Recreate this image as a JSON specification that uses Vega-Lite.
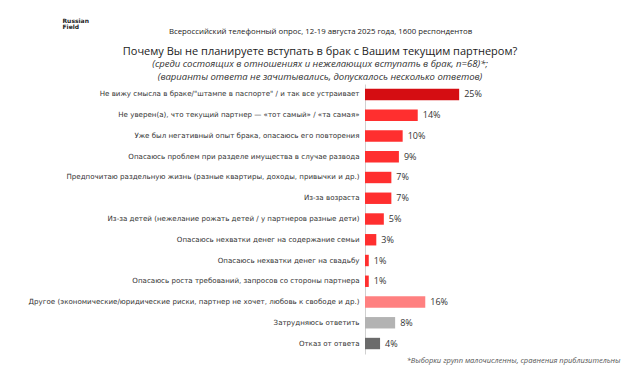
{
  "$schema": "https://vega.github.io/schema/vega-lite/v6.json",
  "width": 226,
  "height": 270,
  "autosize": {"type": "none"},
  "padding": {"left": 365, "top": 84, "right": 51, "bottom": 33},
  "background": "white",
  "config": {"view": {"stroke": null}, "font": "DejaVu Sans"},
  "title": {
    "text": "Почему Вы не планируете вступать в брак с Вашим текущим партнером?",
    "subtitle": ["(среди состоящих в отношениях и нежелающих вступать в брак, n=68)*;", "(варианты ответа не зачитывались, допускалось несколько ответов)"],
    "anchor": "middle",
    "frame": "group",
    "dx": -158,
    "offset": -64,
    "font": "Open Sans",
    "fontSize": 11,
    "fontWeight": "normal",
    "color": "#222222",
    "subtitleFont": "Open Sans",
    "subtitleFontSize": 9.5,
    "subtitleFontStyle": "italic",
    "subtitleColor": "#333333",
    "subtitleLineHeight": 12.5,
    "subtitlePadding": 2
  },
  "data": {
    "values": [
      {"reason": "Не вижу смысла в браке/\"штампе в паспорте\" / и так все устраивает", "value": 0.25, "type": "top"},
      {"reason": "Не уверен(а), что текущий партнер — «тот самый» / «та самая»", "value": 0.14, "type": "reason"},
      {"reason": "Уже был негативный опыт брака, опасаюсь его повторения", "value": 0.10, "type": "reason"},
      {"reason": "Опасаюсь проблем при разделе имущества в случае развода", "value": 0.09, "type": "reason"},
      {"reason": "Предпочитаю раздельную жизнь (разные квартиры, доходы, привычки и др.)", "value": 0.07, "type": "reason"},
      {"reason": "Из-за возраста", "value": 0.07, "type": "reason"},
      {"reason": "Из-за детей (нежелание рожать детей / у партнеров разные дети)", "value": 0.05, "type": "reason"},
      {"reason": "Опасаюсь нехватки денег на содержание семьи", "value": 0.03, "type": "reason"},
      {"reason": "Опасаюсь нехватки денег на свадьбу", "value": 0.01, "type": "reason"},
      {"reason": "Опасаюсь роста требований, запросов со стороны партнера", "value": 0.01, "type": "reason"},
      {"reason": "Другое (экономические/юридические риски, партнер не хочет, любовь к свободе и др.)", "value": 0.16, "type": "other"},
      {"reason": "Затрудняюсь ответить", "value": 0.08, "type": "hard"},
      {"reason": "Отказ от ответа", "value": 0.04, "type": "refuse"}
    ]
  },
  "encoding": {
    "y": {
      "field": "reason",
      "type": "nominal",
      "sort": null,
      "scale": {"paddingInner": 0.45, "paddingOuter": 0.23},
      "axis": {
        "title": ["Russian", "Field"],
        "titleAngle": 0,
        "titleX": -303,
        "titleY": -64,
        "titleAlign": "left",
        "titleBaseline": "middle",
        "titleFontSize": 6,
        "titleLineHeight": 6,
        "titleFontWeight": "bold",
        "titleColor": "#222222",
        "labelFont": "DejaVu Sans",
        "labelFontSize": 7.1,
        "labelColor": "#333333",
        "labelPadding": 6,
        "labelLimit": 400,
        "ticks": false,
        "domainColor": "#d0d0d0",
        "domainWidth": 1
      }
    }
  },
  "layer": [
    {
      "mark": {"type": "bar"},
      "encoding": {
        "x": {
          "field": "value",
          "type": "quantitative",
          "scale": {"domain": [0, 0.6]},
          "axis": {
            "orient": "bottom",
            "domain": false,
            "ticks": false,
            "labels": false,
            "grid": false,
            "title": "*Выборки групп малочисленны, сравнения приблизительны",
            "titleX": 255,
            "titleY": 6,
            "titleAlign": "right",
            "titleAnchor": null,
            "titleBaseline": "middle",
            "titleFont": "Open Sans",
            "titleFontSize": 7.5,
            "titleFontStyle": "italic",
            "titleFontWeight": "normal",
            "titleColor": "#555555"
          }
        },
        "color": {
          "field": "type",
          "type": "nominal",
          "legend": null,
          "scale": {
            "domain": ["top", "reason", "other", "hard", "refuse"],
            "range": ["#d50d12", "#ff2f2f", "#ff8080", "#b3b3b3", "#6b6b6b"]
          }
        }
      }
    },
    {
      "mark": {"type": "text", "align": "left", "baseline": "middle", "dx": 5, "fontSize": 9, "font": "Open Sans", "color": "#333333"},
      "encoding": {
        "x": {
          "field": "value",
          "type": "quantitative",
          "scale": {"domain": [0, 0.6]},
          "axis": {
            "orient": "top",
            "domain": false,
            "ticks": false,
            "labels": false,
            "grid": false,
            "title": "Всероссийский телефонный опрос, 12-19 августа 2025 года, 1600 респондентов",
            "titleX": -45,
            "titleY": -53,
            "titleAlign": "center",
            "titleAnchor": null,
            "titleBaseline": "middle",
            "titleFont": "Open Sans",
            "titleFontSize": 7.8,
            "titleFontWeight": "normal",
            "titleColor": "#222222"
          }
        },
        "text": {"field": "value", "type": "quantitative", "format": ".0%"}
      }
    }
  ],
  "resolve": {"scale": {"x": "independent"}, "axis": {"x": "independent"}}
}
